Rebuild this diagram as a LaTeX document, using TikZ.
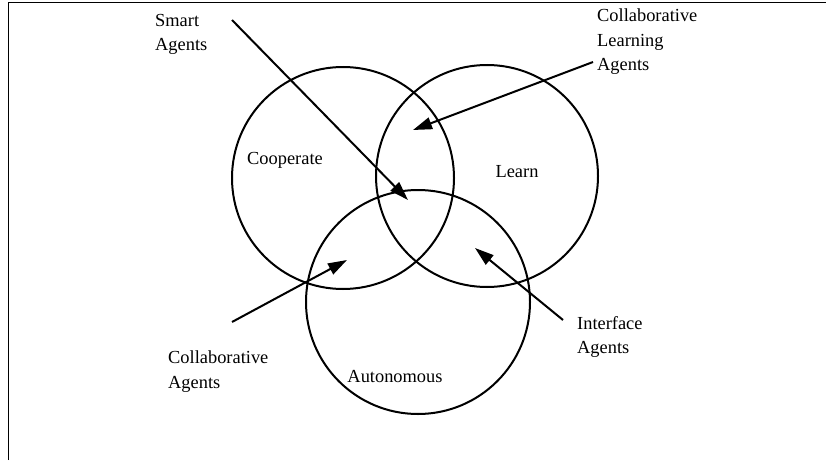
\documentclass[tikz,border=0pt]{standalone}
\usepackage{fontspec}
\setmainfont{Liberation Serif}
\usetikzlibrary{arrows.meta}
\begin{document}
\begin{tikzpicture}[x=1pt,y=-1pt,
  ring/.style={draw=black,line width=2pt},
  lbl/.style={font=\fontsize{18.4}{24.5}\selectfont,inner sep=0pt,align=left},
  arr/.style={draw=black,line width=2pt,-{Triangle[length=19pt,width=12pt]}},
  frame/.style={draw=black,line width=1.6pt}]
\useasboundingbox (0,0) rectangle (826,460);
\draw[frame] (8.5,460) -- (8.5,2.5) -- (826,2.5);
% circles
\draw[ring] (343,178) circle [radius=111];
\draw[ring] (487,176) circle [radius=111];
\draw[ring] (418,302) circle [radius=112];
% labels
\node[lbl,anchor=north west] (smart) at (155,14) {Smart\\Agents};
\node[lbl,anchor=north west] (cla) at (597,9) {Collaborative\\Learning\\Agents};
\node[lbl] (coop) at (285,160) {Cooperate};
\node[lbl] (learn) at (517,172) {Learn};
\node[lbl] (auto) at (395,377) {Autonomous};
\node[lbl,anchor=north west] (ca) at (168,351) {Collaborative\\Agents};
\node[lbl,anchor=north west] (ia) at (577,316) {Interface\\Agents};
% arrow ends
\coordinate (s0) at (232,20);  \coordinate (s1) at (408,200);
\coordinate (l0) at (593,62);  \coordinate (l1) at (413,130);
\coordinate (c0) at (232,322); \coordinate (c1) at (347,260);
\coordinate (i0) at (563,320); \coordinate (i1) at (475,248);
\draw[arr] (s0) -- (s1);
\draw[arr] (l0) -- (l1);
\draw[arr] (c0) -- (c1);
\draw[arr] (i0) -- (i1);
\end{tikzpicture}
\end{document}
